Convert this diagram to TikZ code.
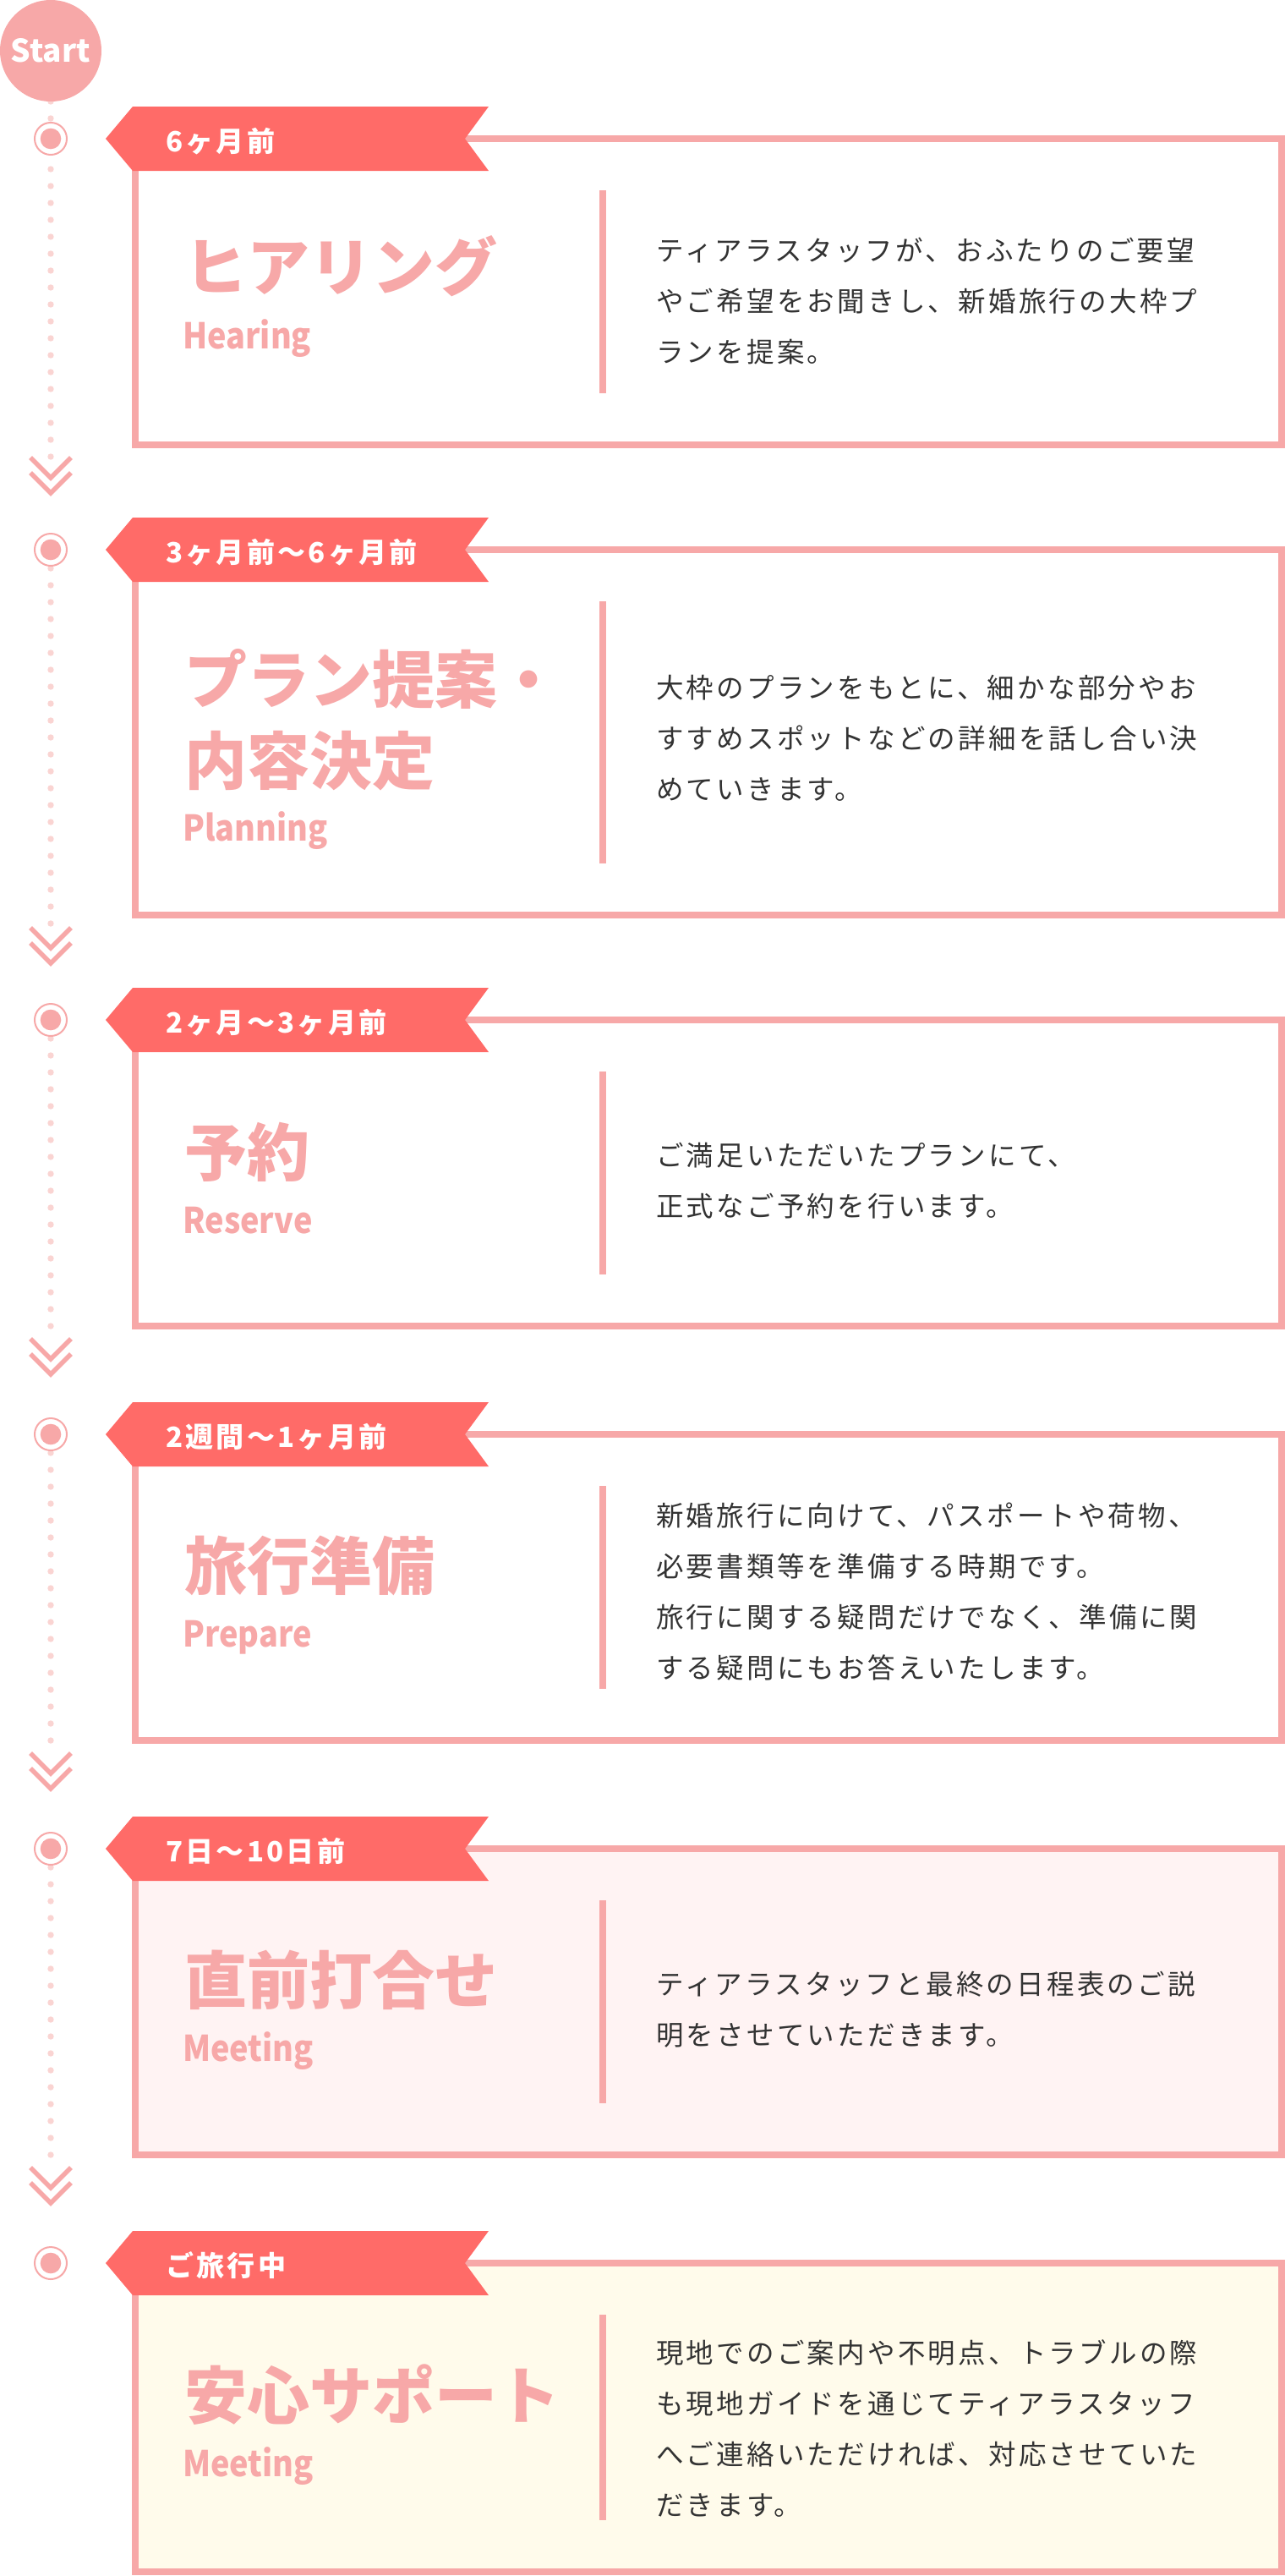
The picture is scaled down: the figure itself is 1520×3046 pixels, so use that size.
\documentclass[tikz,border=0pt]{standalone}
\usepackage{fontspec}
\setmainfont{Noto Sans CJK JP}
\newfontfamily\jp{Noto Sans CJK JP}
\newfontfamily\jpsub[FakeStretch=0.9]{Noto Sans CJK JP}
\newfontfamily\jpls[LetterSpace=10]{Noto Sans CJK JP}
\definecolor{pk}{RGB}{247,168,168}
\definecolor{tagc}{RGB}{255,107,104}
\definecolor{dotc}{RGB}{250,212,210}
\definecolor{txt}{RGB}{51,51,51}
\definecolor{fillpink}{RGB}{255,243,243}
\definecolor{fillcream}{RGB}{255,251,235}
\tikzset{
  stepbox/.style={draw=pk, line width=8pt, rectangle, inner sep=0pt, outer sep=0pt, anchor=north west},
  divline/.style={draw=pk, line width=8pt},
  ribbon/.style={fill=tagc},
  tagtxt/.style={anchor=base west, inner sep=0pt, text=white, font=\jpls\bfseries\fontsize{33}{40}\selectfont},
  ttl/.style={anchor=base west, inner sep=0pt, text=pk, font=\jp\bfseries\fontsize{74}{90}\selectfont},
  subttl/.style={anchor=base west, inner sep=0pt, text=pk, font=\jpsub\bfseries\fontsize{42}{50}\selectfont},
  bodytxt/.style={anchor=base west, inner sep=0pt, text=txt, font=\jpls\fontsize{32.5}{60}\selectfont},
  ringmark/.style={circle, draw=pk, line width=2pt, fill=white, minimum size=38pt, inner sep=0pt},
  dotmark/.style={circle, fill=pk, minimum size=24.6pt, inner sep=0pt},
  chev/.style={draw=pk, line width=5.5pt, line join=miter},
  tldot/.style={fill=dotc},
  startnode/.style={circle, fill=pk, minimum size=120pt, inner sep=0pt, text=white, font=\jp\bfseries\fontsize{37}{44}\selectfont},
}
\begin{document}
\begin{tikzpicture}[x=1pt,y=-1pt]
\useasboundingbox (0,0) rectangle (1520,3046);
\fill[white] (0,0) rectangle (1520,3046);
% timeline dots
\foreach \y in {120,140,...,540} \fill[tldot] (60,\y) circle (3.7);
\foreach \T/\H in {650/432, 1206/362, 1696/362, 2186/362}{
  \pgfmathtruncatemacro\a{\T+22}
  \pgfmathtruncatemacro\b{\T+42}
  \pgfmathtruncatemacro\e{\T+\H+15}
  \foreach \y in {\a,\b,...,\e} \fill[tldot] (60,\y) circle (3.7);
}
% chevrons
\foreach \T/\H in {164/362, 650/432, 1206/362, 1696/362, 2186/362}{
  \draw[chev] (36,\T+\H+15) -- (60,\T+\H+39) -- (84,\T+\H+15);
  \draw[chev] (36,\T+\H+33) -- (60,\T+\H+57) -- (84,\T+\H+33);
}
\node[startnode] (start) at (60,60) {Start};
% steps
\foreach \T/\H/\fc/\tg [count=\i] in {164/362/white/6ヶ月前, 650/432/white/3ヶ月前〜6ヶ月前, 1206/362/white/2ヶ月〜3ヶ月前, 1696/362/white/2週間〜1ヶ月前, 2186/362/fillpink/7日〜10日前, 2676/365/fillcream/ご旅行中}{
  \node[stepbox, fill=\fc, minimum width=1356pt, minimum height=\H pt] (box\i) at (160,\T) {};
  \draw[divline] (713,\T+61) -- (713,\T+\H-61);
  \fill[ribbon] (125,\T) -- (157,\T-38) -- (578,\T-38) -- (550,\T) -- (578,\T+38) -- (157,\T+38) -- cycle;
  \node[tagtxt] (tag\i) at (196,\T+15.5) {\tg};
  \node[ringmark] (ring\i) at (60,\T) {};
  \node[dotmark] (mark\i) at (60,\T) {};
}
% titles
\node[ttl] (t1) at (218,343) {ヒアリング};
\node[subttl] (s1) at (216,412) {Hearing};
\node[ttl] (t2a) at (218,831) {プラン提案・};
\node[ttl] (t2b) at (218,927) {内容決定};
\node[subttl] (s2) at (216,994) {Planning};
\node[ttl] (t3) at (218,1390) {予約};
\node[subttl] (s3) at (216,1458) {Reserve};
\node[ttl] (t4) at (218,1879) {旅行準備};
\node[subttl] (s4) at (216,1947) {Prepare};
\node[ttl] (t5) at (218,2369) {直前打合せ};
\node[subttl] (s5) at (216,2437) {Meeting};
\node[ttl] (t6) at (218,2860) {安心サポート};
\node[subttl] (s6) at (216,2928) {Meeting};
% body texts
\foreach \ln [count=\j] in {ティアラスタッフが、おふたりのご要望, やご希望をお聞きし、新婚旅行の大枠プ, ランを提案。}
  \node[bodytxt] (b1-\j) at (776,308.4+60*\j-60) {\ln};
\foreach \ln [count=\j] in {大枠のプランをもとに、細かな部分やお, すすめスポットなどの詳細を話し合い決, めていきます。}
  \node[bodytxt] (b2-\j) at (776,825.4+60*\j-60) {\ln};
\foreach \ln [count=\j] in {ご満足いただいたプランにて、, 正式なご予約を行います。}
  \node[bodytxt] (b3-\j) at (776,1378.4+60*\j-60) {\ln};
\foreach \ln [count=\j] in {新婚旅行に向けて、パスポートや荷物、, 必要書類等を準備する時期です。, 旅行に関する疑問だけでなく、準備に関, する疑問にもお答えいたします。}
  \node[bodytxt] (b4-\j) at (776,1804.4+60*\j-60) {\ln};
\foreach \ln [count=\j] in {ティアラスタッフと最終の日程表のご説, 明をさせていただきます。}
  \node[bodytxt] (b5-\j) at (776,2358.4+60*\j-60) {\ln};
\foreach \ln [count=\j] in {現地でのご案内や不明点、トラブルの際, も現地ガイドを通じてティアラスタッフ, へご連絡いただければ、対応させていた, だきます。}
  \node[bodytxt] (b6-\j) at (776,2794.4+60*\j-60) {\ln};
\end{tikzpicture}
\end{document}
